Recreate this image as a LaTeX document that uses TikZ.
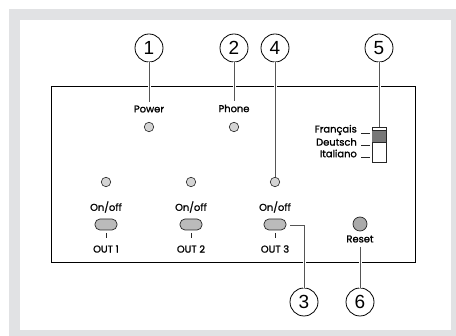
\documentclass[tikz,border=0pt]{standalone}
\usepackage{fontspec}
\setmainfont{Poppins}
\newfontfamily\labfont{Poppins}[FakeBold=1.3]
\newfontfamily\numfont{Liberation Sans}
\definecolor{framegray}{HTML}{E1E2E4}
\definecolor{ledgray}{HTML}{D4D4D4}
\definecolor{btngray}{HTML}{BBBBBB}
\definecolor{rstgray}{HTML}{AAAAAA}
\definecolor{slidergray}{HTML}{777777}
\definecolor{leadgray}{HTML}{555555}
\begin{document}
\begin{tikzpicture}[x=1pt,y=-1pt,
  callout/.style={circle,draw=black,line width=0.8pt,minimum size=28pt,inner sep=0pt,font=\numfont\fontsize{19}{19}\selectfont},
  lab/.style={font=\labfont\fontsize{9.9}{10}\selectfont,inner sep=0pt},
  led/.style={circle,draw=black!85,fill=ledgray,line width=0.6pt,minimum size=9.5pt,inner sep=0pt},
  btn/.style={rounded corners=5pt,draw=black!85,fill=btngray,line width=0.7pt,minimum width=22pt,minimum height=11pt,inner sep=0pt},
  leader/.style={draw=leadgray,line width=0.8pt},
  knock/.style={draw=white,line width=3pt},
  tickln/.style={draw=black!85,line width=0.8pt}]
\useasboundingbox (0,0) rectangle (456,336);
% frame
\fill[framegray] (9,9) rectangle (456,336);
\fill[white] (20,20) rectangle (451,330);
% panel
\node[draw=black,line width=0.9pt,minimum width=364pt,minimum height=176pt,inner sep=0pt] (panel) at (233,174) {};
% labels and LEDs
\node[lab] (power) at (149,109) {Power};
\node[lab] (phone) at (234,108.5) {Phone};
\node[led] (ledP) at (149,127) {};
\node[led] (ledH) at (234,127) {};
\node[led] (led1) at (106,182) {};
\node[led] (led2) at (191,182) {};
\node[led] (led3) at (275,182) {};
\node[lab] (on1) at (106,207) {On/off};
\node[lab] (on2) at (191,207) {On/off};
\node[lab] (on3) at (275,207) {On/off};
\node[btn] (b1) at (106,224.5) {};
\node[btn] (b2) at (191,224.5) {};
\node[btn] (b3) at (275,224.5) {};
\coordinate (t1a) at (106,233); \coordinate (t1b) at (106,238);
\coordinate (t2a) at (191,233); \coordinate (t2b) at (191,238);
\coordinate (t3a) at (275,233); \coordinate (t3b) at (275,238);
\draw[tickln] (t1a) -- (t1b);
\draw[tickln] (t2a) -- (t2b);
\draw[tickln] (t3a) -- (t3b);
\node[lab] (out1) at (106,249) {OUT 1};
\node[lab] (out2) at (191,249) {OUT 2};
\node[lab] (out3) at (275,249) {OUT 3};
\node[circle,draw=black!85,fill=rstgray,line width=0.7pt,minimum size=14pt,inner sep=0pt] (reset) at (360,224) {};
\node[lab] (resetl) at (360,239) {Reset};
% language switch
\node[draw=black!85,line width=0.8pt,minimum width=14pt,minimum height=35pt,inner sep=0pt] (sw) at (379,144.5) {};
\fill[slidergray] (372,130) rectangle (386,142);
\draw[black!85,line width=0.6pt] (372,130) -- (386,130);
\draw[black!85,line width=0.6pt] (372,142) -- (386,142);
\node[lab,anchor=east] (fr) at (357,130) {Français};
\node[lab,anchor=east] (de) at (357,142) {Deutsch};
\node[lab,anchor=east] (it) at (357,153.5) {Italiano};
\coordinate (k1a) at (361,133); \coordinate (k1b) at (370,133);
\coordinate (k2a) at (361,145); \coordinate (k2b) at (370,145);
\coordinate (k3a) at (361,157); \coordinate (k3b) at (370,157);
\draw[tickln] (k1a) -- (k1b);
\draw[tickln] (k2a) -- (k2b);
\draw[tickln] (k3a) -- (k3b);
% callouts
\node[callout] (c1) at (149,48) {1};
\node[callout] (c2) at (234,48) {2};
\node[callout] (c4) at (275,48) {4};
\node[callout] (c5) at (379,48) {5};
\node[callout] (c3) at (304,302) {3};
\node[callout] (c6) at (360,302) {6};
% leaders
\coordinate (e1) at (149,102);
\coordinate (e2) at (234,101.5);
\coordinate (e6) at (360,247);
\coordinate (b3r) at (290,225);
\coordinate (b3c) at (304,225);
\draw[knock] (c1.south) -- (e1);
\draw[leader] (c1.south) -- (e1);
\draw[knock] (c2.south) -- (e2);
\draw[leader] (c2.south) -- (e2);
\draw[knock] (c4.south) -- (led3.north);
\draw[leader] (c4.south) -- (led3.north);
\draw[knock] (c5.south) -- (sw.north);
\draw[leader] (c5.south) -- (sw.north);
\draw[knock] (b3c) -- (c3.north);
\draw[leader] (b3r) -- (b3c) -- (c3.north);
\draw[knock] (e6) -- (c6.north);
\draw[leader] (e6) -- (c6.north);
\end{tikzpicture}
\end{document}
